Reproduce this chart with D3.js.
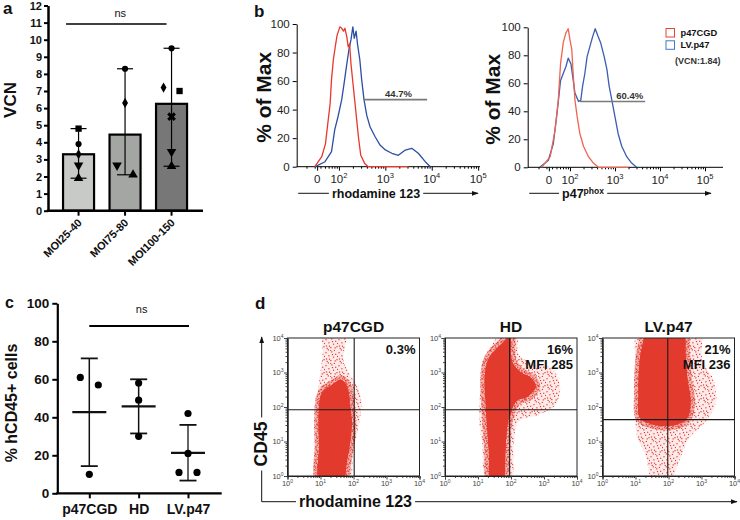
<!DOCTYPE html>
<html lang="en">
<head>
<meta charset="UTF-8" />
<title>VCN, rhodamine 123 and CD45 panels</title>
<script src="https://cdn.jsdelivr.net/npm/d3@7"></script>
<style>
  body { margin: 0; background: #fff; }
  svg { display: block; font-family: "Liberation Sans", Arial, sans-serif; }
</style>
</head>
<body>
<div id="chart"></div>
<script>
// ---- panel a: vector copy number per MOI group
const moiGroups = ['MOI25-40', 'MOI75-80', 'MOI100-150'];
const vcnMean = [3.3, 4.45, 6.25];
const vcnLow = [1.9, 2.1, 2.6];
const vcnHigh = [4.8, 8.3, 9.5];
const vcnTicks = [0, 1, 2, 3, 4, 5, 6, 7, 8, 9, 10, 11, 12];
// [group, VCN, marker]
const vcnPoints = [
  [0, 4.8, 'square'], [0, 3.9, 'circle'], [0, 3.3, 'diamond'], [0, 2.65, 'down'], [0, 1.9, 'up'],
  [1, 8.3, 'circle'], [1, 6.3, 'diamond'], [1, 2.65, 'down'], [1, 2.1, 'up'],
  [2, 9.5, 'circle'], [2, 7.2, 'diamond'], [2, 7.0, 'square'], [2, 5.5, 'cross'], [2, 3.45, 'down'], [2, 2.6, 'up']
];

// ---- panel b: histograms, x in log10 units of fluorescence, y in % of max
const histTicks = [1.53, 2, 3, 4, 5];
const histTickLabels = ['0', '10^2', '10^3', '10^4', '10^5'];
const rhoCGD = [[1.48, 0], [1.63, 7], [1.71, 16], [1.77, 33], [1.81, 44], [1.84, 61], [1.88, 75], [1.93, 86],
  [1.96, 92], [2.02, 98], [2.06, 97], [2.10, 95], [2.13, 97], [2.17, 91], [2.20, 84], [2.23, 86], [2.26, 72],
  [2.31, 56], [2.37, 37], [2.42, 21], [2.47, 8], [2.56, 2], [2.63, 0], [3.5, 0]];
const rhoLV = [[1.49, 0], [1.70, 3.5], [1.84, 10.5], [1.91, 26], [1.98, 35], [2.06, 47], [2.11, 58], [2.17, 72],
  [2.22, 83], [2.26, 89], [2.30, 98], [2.33, 90], [2.37, 95], [2.40, 86], [2.45, 75], [2.49, 61], [2.54, 47],
  [2.60, 36], [2.67, 28], [2.78, 21], [2.89, 15], [2.99, 12], [3.14, 9.4], [3.28, 8], [3.43, 11.7], [3.57, 12.9],
  [3.71, 9.4], [3.86, 3.5], [3.97, 0]];
const p47CGD = [[1.37, 0], [1.56, 7.6], [1.67, 27], [1.74, 48], [1.79, 74], [1.85, 89], [1.91, 96], [1.96, 99],
  [2.0, 91], [2.04, 84], [2.07, 67], [2.11, 48], [2.16, 36], [2.22, 24], [2.30, 15], [2.41, 7.6], [2.52, 3],
  [2.63, 0], [3.3, 0]];
const p47LV = [[1.33, 0], [1.52, 5], [1.63, 17], [1.72, 41], [1.79, 62], [1.85, 67], [1.91, 72], [1.96, 78],
  [2.02, 74], [2.06, 65], [2.11, 53], [2.19, 47], [2.24, 48], [2.28, 58], [2.33, 67], [2.38, 79], [2.44, 86],
  [2.50, 93], [2.56, 99], [2.63, 93], [2.68, 89], [2.76, 79], [2.82, 70], [2.87, 58], [2.93, 48], [3.0, 36],
  [3.07, 24], [3.15, 15], [3.26, 7.6], [3.37, 3], [3.48, 0]];
// [from, to, level %, label]
const rhoGate = [2.54, 3.90, 47, '44.7%'];
const p47Gate = [2.22, 3.67, 47, '60.4%'];
const legendNames = ['p47CGD', 'LV.p47'];
const legendNote = '(VCN:1.84)';

// ---- panel c: % hCD45+ cells
const cd45Groups = ['p47CGD', 'HD', 'LV.p47'];
const cd45Points = [[61, 57, 10], [58, 49, 30], [42, 21, 11, 11]];
const cd45Mean = [42.7, 45.7, 21.3];
const cd45Low = [14.3, 31.5, 6.7];
const cd45High = [71, 60, 36];
const cd45Ticks = [0, 20, 40, 60, 80, 100];

// ---- panel d: CD45 vs rhodamine 123 dot plots, contours in log10 units [x, y]
const dotTitles = ['p47CGD', 'HD', 'LV.p47'];
const dotPct = ['0.3%', '16%', '21%'];
const dotMfi = ['', 'MFI 285', 'MFI 236'];
const quadX = [105, 91, 95];
const quadY = [83, 83, 43];
const dotTicks = [1, 10, 100, 1000, 10000];
const cloudCore = [
  [[0.99, -0.2], [0.96, 0.9], [0.94, 1.58], [0.99, 2.26], [1.11, 2.5], [1.35, 2.64], [1.6, 2.79], [1.75, 2.69],
   [1.85, 2.45], [1.9, 1.97], [1.95, 1.58], [1.9, 1.0], [1.8, 0.42], [1.65, -0.2]],
  [[1.41, -0.2], [1.33, 0.71], [1.28, 1.38], [1.23, 2.16], [1.21, 2.93], [1.33, 3.42], [1.58, 3.71], [1.83, 3.95],
   [1.98, 4.2], [2.03, 3.32], [2.3, 3.0], [2.6, 2.85], [2.75, 2.6], [2.5, 2.3], [2.2, 2.2],
   [2.0, 1.87], [1.88, 1.38], [1.83, 0.71], [1.73, -0.2]],
  [[1.14, 1.68], [1.09, 2.35], [1.11, 3.13], [1.19, 3.71], [1.4, 4.2], [2.42, 4.2], [2.52, 3.52], [2.57, 2.84],
   [2.67, 2.16], [2.57, 1.68], [2.21, 1.48], [1.6, 1.48]]
];
const cloudFringe = [
  [[0.91, -0.2], [0.86, 1.19], [0.88, 2.16], [0.99, 2.93], [1.06, 3.52], [1.11, 4.2], [1.75, 4.2], [1.7, 3.32],
   [1.9, 2.93], [2.09, 2.64], [2.24, 2.16], [2.14, 1.38], [1.99, 0.71], [1.85, -0.2]],
  [[1.28, -0.2], [1.13, 0.9], [1.03, 1.68], [1.08, 2.64], [1.13, 3.32], [1.43, 3.81], [1.73, 4.2], [2.18, 4.2],
   [2.23, 3.52], [2.73, 3.23], [3.24, 3.13], [3.49, 2.55], [3.34, 2.06], [2.83, 1.77], [2.23, 1.58], [2.08, 0.9],
   [1.98, -0.2]],
  [[1.04, 1.19], [0.99, 2.16], [0.99, 3.32], [1.09, 4.2], [2.93, 4.2], [3.03, 3.32], [3.34, 2.84], [3.44, 2.16],
   [3.13, 1.58], [2.62, 1.09], [2.32, 0.42], [2.01, -0.2], [1.55, -0.2], [1.30, 0.61]]
];

const FONT = '"Liberation Sans", Arial, sans-serif';
const RED = '#e23a2d';
const svg = d3.select('#chart').append('svg').attr('width', 740).attr('height', 520);
const defs = svg.append('defs');
defs.append('marker').attr('id', 'arrow').attr('viewBox', '0 0 10 10')
  .attr('refX', 9).attr('refY', 5).attr('markerWidth', 7).attr('markerHeight', 7).attr('orient', 'auto')
  .append('path').attr('d', 'M0,1.5L10,5L0,8.5Z').attr('fill', '#111');

// speckle fills for the sparse and the medium part of the dot clouds
function speckle(id, tile, bgOpacity, dots) {
  const p = defs.append('pattern').attr('id', id).attr('patternUnits', 'userSpaceOnUse')
    .attr('width', tile).attr('height', tile);
  p.append('rect').attr('width', tile).attr('height', tile).attr('fill', RED).attr('fill-opacity', bgOpacity);
  dots.forEach(d => p.append('rect').attr('x', d[0]).attr('y', d[1]).attr('width', 1.2).attr('height', 1.2).attr('fill', RED));
}
speckle('sparse', 13, 0.1, [[0.4, 1.1], [6.2, 0.3], [10.1, 2.7], [3.3, 4.2], [8.0, 5.6], [0.9, 7.4], [11.4, 8.1],
  [5.2, 9.0], [2.7, 11.3], [8.8, 11.9], [12.0, 4.9], [6.9, 3.0], [3.9, 7.6], [9.6, 9.3], [1.6, 9.8], [5.0, 12.2]]);
speckle('medium', 7, 0.3, [[0.5, 0.6], [3.9, 1.3], [1.7, 3.7], [5.3, 4.2], [0.2, 5.6], [3.3, 5.9], [5.8, 0.1], [2.5, 2.1]]);

function label(txt, x, y, size, opts = {}) {
  return svg.append('text').attr('x', x).attr('y', y).attr('font-size', size)
    .attr('font-weight', opts.weight || 'bold').attr('text-anchor', opts.anchor || 'start')
    .attr('fill', opts.fill || '#111').attr('transform', opts.rotate ? `rotate(-90,${x},${y})` : null)
    .text(txt);
}

function powerLabel(sel, str, supSize, shift) {
  const parts = str.split('^');
  sel.append('tspan').text(parts[0]);
  if (parts[1]) sel.append('tspan').attr('dy', -shift).attr('font-size', supSize).text(parts[1]);
}

// pairs of points that would overlap are split left / right
function spread(values, y, gap, off) {
  const order = values.map((v, i) => i).sort((a, b) => values[b] - values[a]);
  const dx = values.map(() => 0);
  for (let k = 1; k < order.length; k++) {
    const a = order[k - 1], b = order[k];
    if (dx[a] === 0 && Math.abs(y(values[a]) - y(values[b])) < gap) { dx[a] = -off; dx[b] = off; }
  }
  return dx;
}

// horizontal arrow with a gap for the text element t
function hArrow(t, x1, x2, y) {
  const bb = t.node().getBBox();
  svg.append('line').attr('x1', x1).attr('x2', bb.x - 3).attr('y1', y).attr('y2', y).attr('stroke', '#111');
  svg.append('line').attr('x1', bb.x + bb.width + 3).attr('x2', x2).attr('y1', y).attr('y2', y)
    .attr('stroke', '#111').attr('marker-end', 'url(#arrow)');
}

// ================= panel a =================
label('a', 3, 14, 17);
const ya = d3.scaleLinear().domain([0, 12]).range([210.7, 5.5]);
const xa = d3.scaleBand().domain(moiGroups).range([55.3, 194.8]).paddingInner(0.333).paddingOuter(0.1667);
const barFill = ['#c8cac8', '#a4a6a4', '#767776'];
const ga = svg.append('g');
ga.selectAll('rect').data(moiGroups).join('rect')
  .attr('x', d => xa(d)).attr('width', xa.bandwidth())
  .attr('y', (d, i) => ya(vcnMean[i])).attr('height', (d, i) => ya(0) - ya(vcnMean[i]))
  .attr('fill', (d, i) => barFill[i]).attr('stroke', '#000').attr('stroke-width', 2.2);
moiGroups.forEach((g, i) => {
  const cx = xa(g) + xa.bandwidth() / 2;
  ga.append('line').attr('x1', cx).attr('x2', cx).attr('y1', ya(vcnLow[i])).attr('y2', ya(vcnHigh[i]))
    .attr('stroke', '#000').attr('stroke-width', 1.2);
  [vcnLow[i], vcnHigh[i]].forEach(v => {
    ga.append('line').attr('x1', cx - 8).attr('x2', cx + 8).attr('y1', ya(v)).attr('y2', ya(v))
      .attr('stroke', '#000').attr('stroke-width', 1.2);
  });
  const pts = vcnPoints.filter(p => p[0] === i);
  const dx = spread(pts.map(p => p[1]), ya, 10, 8);
  pts.forEach((p, k) => {
    const shape = { square: d3.symbolSquare, circle: d3.symbolCircle, diamond: d3.symbolDiamond,
      down: d3.symbolTriangle, up: d3.symbolTriangle, cross: d3.symbolCross }[p[2]];
    const size = p[2] === 'circle' ? 30 : p[2] === 'cross' ? 48 : p[2] === 'diamond' ? 30 : 40;
    const rot = p[2] === 'down' ? 180 : p[2] === 'cross' ? 45 : 0;
    ga.append('path').attr('d', d3.symbol(shape, size)())
      .attr('transform', `translate(${cx + dx[k]},${ya(p[1])}) rotate(${rot})`).attr('fill', '#000');
  });
});
const ayA = ga.append('g').attr('transform', 'translate(48,0)')
  .call(d3.axisLeft(ya).tickValues(vcnTicks).tickSize(4).tickSizeOuter(0).tickPadding(2));
ayA.attr('font-family', FONT).attr('font-size', 11).attr('font-weight', 'bold');
ayA.select('.domain').attr('stroke-width', 2.5);
ayA.selectAll('.tick line').attr('stroke-width', 2);
ayA.selectAll('text').attr('fill', '#111');
ga.append('line').attr('x1', 46.8).attr('x2', 203).attr('y1', ya(0)).attr('y2', ya(0))
  .attr('stroke', '#000').attr('stroke-width', 2.5);
const axA = ga.append('g').attr('transform', `translate(0,${ya(0)})`)
  .call(d3.axisBottom(xa).tickSize(5).tickSizeOuter(0));
axA.attr('font-family', FONT).attr('font-size', 11).attr('font-weight', 'bold');
axA.select('.domain').remove();
axA.selectAll('.tick line').attr('stroke-width', 2);
axA.selectAll('text').attr('fill', '#111').attr('text-anchor', 'end')
  .attr('x', -6).attr('y', 8).attr('dy', '0.35em').attr('transform', 'rotate(-45)');
const nsA0 = xa(moiGroups[0]) + 3, nsA1 = xa(moiGroups[2]) + xa.bandwidth() / 2 - 5;
ga.append('line').attr('x1', nsA0).attr('x2', nsA1).attr('y1', 24).attr('y2', 24)
  .attr('stroke', '#000').attr('stroke-width', 1.6);
label('ns', (nsA0 + nsA1) / 2 + 4, 16.5, 11, { weight: 'normal', anchor: 'middle' });
label('VCN', 16, 100, 17, { rotate: true, anchor: 'middle' });

// ================= panel b =================
label('b', 254, 16.5, 17);
const histPanels = [
  { xr: [296.7, 480], yr: [166.7, 24], dom: [1.09, 5.04], series: [rhoLV, rhoCGD],
    colors: ['#2c4ea4', '#e8382b'], gate: rhoGate, anchor: 'middle', xlab: 'rhodamine 123',
    xlabX: 376, arrowEnd: 478, ylabX: 271.5 },
  { xr: [527.7, 723], yr: [167.3, 27.3], dom: [1.06, 5.4], series: [p47LV, p47CGD],
    colors: ['#3a5cb2', '#ef6450'], gate: p47Gate, anchor: 'end', xlab: 'p47^phox',
    xlabX: 583, arrowEnd: 711, ylabX: 500.5 }
];
histPanels.forEach(cfg => {
  const x = d3.scaleLinear().domain(cfg.dom).range(cfg.xr);
  const y = d3.scaleLinear().domain([0, 100]).range(cfg.yr);
  const g = svg.append('g');
  const line = d3.line().x(d => x(d[0])).y(d => y(d[1]));
  const ay = g.append('g').attr('transform', `translate(${cfg.xr[0]},0)`)
    .call(d3.axisLeft(y).tickValues([0, 20, 40, 60, 80, 100]).tickSize(4).tickSizeOuter(0).tickPadding(3));
  ay.attr('font-family', FONT).attr('font-size', 11.5);
  ay.selectAll('text').attr('fill', '#222');
  const minor = [];
  for (let n = 1; n <= 4; n++) for (let k = 2; k <= 9; k++) {
    const v = Math.log10(k * Math.pow(10, n));
    if (v > cfg.dom[0] && v < cfg.dom[1]) minor.push(v);
  }
  const ax = g.append('g').attr('transform', `translate(0,${cfg.yr[0]})`)
    .call(d3.axisBottom(x).tickValues(minor).tickSize(2).tickSizeOuter(0).tickFormat(''));
  ax.select('.domain').attr('d', `M${cfg.xr[0]},0H${cfg.xr[1]}`);
  const axMaj = g.append('g').attr('transform', `translate(0,${cfg.yr[0]})`)
    .call(d3.axisBottom(x).tickValues(histTicks).tickSize(4).tickFormat(''));
  axMaj.select('.domain').remove();
  histTicks.forEach((v, i) => {
    const t = g.append('text').attr('x', x(v)).attr('y', cfg.yr[0] + 16.5).attr('text-anchor', 'middle')
      .attr('font-size', 11.5).attr('fill', '#222');
    powerLabel(t, histTickLabels[i], 7.5, 5);
  });
  cfg.series.forEach((s, si) => {
    g.append('path').datum(s).attr('d', line).attr('fill', 'none')
      .attr('stroke', cfg.colors[si]).attr('stroke-width', 1.3).attr('stroke-linejoin', 'round');
  });
  const [lo, hi, lev, txt] = cfg.gate;
  g.append('line').attr('x1', x(lo)).attr('x2', x(hi)).attr('y1', y(lev)).attr('y2', y(lev))
    .attr('stroke', '#7a7a7a').attr('stroke-width', 1.6);
  const gx = cfg.anchor === 'end' ? x(hi) - 2 : (x(lo) + x(hi)) / 2 + 3;
  g.append('text').attr('x', gx).attr('y', y(lev) - 3).attr('text-anchor', cfg.anchor)
    .attr('font-size', 9.5).attr('font-weight', 'bold').attr('fill', '#333').text(txt);
  label('% of Max', cfg.ylabX, (cfg.yr[0] + cfg.yr[1]) / 2 + 2, 21, { rotate: true, anchor: 'middle' });
  const xl = svg.append('text').attr('x', cfg.xlabX).attr('y', 197.5).attr('text-anchor', 'middle')
    .attr('font-size', 12.5).attr('font-weight', 'bold').attr('fill', '#111');
  powerLabel(xl, cfg.xlab, 8.5, 4);
  hArrow(xl, cfg.xr[0] + 1.5, cfg.arrowEnd, 193.3);
});
// legend
legendNames.forEach((n, i) => {
  svg.append('rect').attr('x', 666).attr('y', 28.5 + i * 12.3).attr('width', 8.5).attr('height', 8.5)
    .attr('fill', 'none').attr('stroke', i ? '#3f7ac8' : '#e8452f').attr('stroke-width', 1);
  label(n, 680.5, 36 + i * 12.3, 9.3);
});
label(legendNote, 675, 64, 9, { fill: '#333' });

// ================= panel c =================
label('c', 5, 308, 16);
const yc = d3.scaleLinear().domain([0, 100]).range([493.3, 303.3]);
const xc = d3.scalePoint().domain(cd45Groups).range([89.3, 188]);
const gc = svg.append('g');
const ayC = gc.append('g').attr('transform', 'translate(57.3,0)')
  .call(d3.axisLeft(yc).tickValues(cd45Ticks).tickSize(5).tickSizeOuter(0).tickPadding(3));
ayC.attr('font-family', FONT).attr('font-size', 13.5).attr('font-weight', 'bold');
ayC.select('.domain').attr('stroke-width', 2.2);
ayC.selectAll('.tick line').attr('stroke-width', 2);
ayC.selectAll('text').attr('fill', '#111');
const axC = gc.append('g').attr('transform', `translate(0,${yc(0)})`)
  .call(d3.axisBottom(xc).tickSize(5).tickSizeOuter(0).tickPadding(6));
axC.attr('font-family', FONT).attr('font-size', 14).attr('font-weight', 'bold');
axC.select('.domain').attr('d', 'M56.2,0H221.7').attr('stroke-width', 2.2);
axC.selectAll('.tick line').attr('stroke-width', 2);
axC.selectAll('text').attr('fill', '#111');
cd45Groups.forEach((g, i) => {
  const cx = xc(g);
  gc.append('line').attr('x1', cx).attr('x2', cx).attr('y1', yc(cd45Low[i])).attr('y2', yc(cd45High[i]))
    .attr('stroke', i === 2 ? '#333' : '#111').attr('stroke-width', 1.5);
  [cd45Low[i], cd45High[i]].forEach(v => {
    gc.append('line').attr('x1', cx - 8.5).attr('x2', cx + 8.5).attr('y1', yc(v)).attr('y2', yc(v))
      .attr('stroke', '#111').attr('stroke-width', 1.8);
  });
  gc.append('line').attr('x1', cx - 17).attr('x2', cx + 17).attr('y1', yc(cd45Mean[i])).attr('y2', yc(cd45Mean[i]))
    .attr('stroke', '#111').attr('stroke-width', 2.2);
  const dx = spread(cd45Points[i], yc, 10, 9);
  cd45Points[i].forEach((v, k) => {
    gc.append('circle').attr('cx', cx + dx[k]).attr('cy', yc(v)).attr('r', 3.6).attr('fill', '#000');
  });
});
gc.append('line').attr('x1', xc(cd45Groups[0])).attr('x2', xc(cd45Groups[2]) + 1)
  .attr('y1', 326).attr('y2', 326).attr('stroke', '#000').attr('stroke-width', 1.8);
label('ns', xc(cd45Groups[1]) + 3, 313, 11, { weight: 'normal', anchor: 'middle' });
label('% hCD45+ cells', 16.5, 403, 16, { rotate: true, anchor: 'middle' });

// ================= panel d =================
label('d', 255, 309, 17);
const dTop = 338, dBot = 476, dW = 132;
dotTitles.forEach((title, i) => {
  const left = 287.5 + i * 157.5;
  const xs = d3.scaleLog().domain([1, 1e4]).range([left, left + dW]);
  const ys = d3.scaleLog().domain([1, 1e4]).range([dBot, dTop]);
  const g = svg.append('g');
  const clipId = 'clip' + i;
  defs.append('clipPath').attr('id', clipId).append('rect')
    .attr('x', left).attr('y', dTop).attr('width', dW).attr('height', dBot - dTop);
  const shape = d3.line().x(p => xs(Math.pow(10, p[0]))).y(p => ys(Math.pow(10, p[1])))
    .curve(d3.curveCatmullRomClosed.alpha(0.5));
  const clouds = g.append('g').attr('clip-path', `url(#${clipId})`);
  clouds.append('path').attr('d', shape(cloudFringe[i])).attr('fill', 'url(#sparse)');
  clouds.append('path').attr('d', shape(cloudCore[i])).attr('fill', RED)
    .attr('stroke', 'url(#medium)').attr('stroke-width', 9);
  clouds.append('path').attr('d', shape(cloudCore[i])).attr('fill', RED);
  g.append('line').attr('x1', xs(quadX[i])).attr('x2', xs(quadX[i])).attr('y1', dTop).attr('y2', dBot)
    .attr('stroke', '#1a1a1a').attr('stroke-width', 1.1);
  g.append('line').attr('x1', left).attr('x2', left + dW).attr('y1', ys(quadY[i])).attr('y2', ys(quadY[i]))
    .attr('stroke', '#1a1a1a').attr('stroke-width', 1.1);
  g.append('rect').attr('x', left).attr('y', dTop).attr('width', dW).attr('height', dBot - dTop)
    .attr('fill', 'none').attr('stroke', '#222').attr('stroke-width', 1);
  const minor = [];
  for (let n = 0; n < 4; n++) for (let k = 2; k <= 9; k++) minor.push(k * Math.pow(10, n));
  const ax = g.append('g').attr('transform', `translate(0,${dBot})`);
  ax.call(d3.axisBottom(xs).tickValues(minor).tickSize(2).tickFormat(''));
  ax.call(a => a.append('g').call(d3.axisBottom(xs).tickValues(dotTicks).tickSize(3.5).tickFormat('')));
  const ay = g.append('g').attr('transform', `translate(${left},0)`);
  ay.call(d3.axisLeft(ys).tickValues(minor).tickSize(2).tickFormat(''));
  ay.call(a => a.append('g').call(d3.axisLeft(ys).tickValues(dotTicks).tickSize(3.5).tickFormat('')));
  g.selectAll('.domain').attr('stroke', '#222');
  g.selectAll('.tick line').attr('stroke', '#444');
  dotTicks.forEach((v, k) => {
    const tx = g.append('text').attr('x', xs(v)).attr('y', dBot + 9.5).attr('text-anchor', 'middle')
      .attr('font-size', 7.5).attr('fill', '#444');
    powerLabel(tx, '10^' + k, 5, 3);
    const ty = g.append('text').attr('x', left - 4).attr('y', ys(v) + 2.5).attr('text-anchor', 'end')
      .attr('font-size', 7.5).attr('fill', '#444');
    powerLabel(ty, '10^' + k, 5, 3);
  });
  label(title, left + dW / 2, 331.5, 15.5, { anchor: 'middle' });
  label(dotPct[i], left + dW - 4, 354, 13, { anchor: 'end' });
  if (dotMfi[i]) label(dotMfi[i], left + dW - 4, 368.5, 13, { anchor: 'end' });
});
const rhoLab = label('rhodamine 123', 355.5, 507, 16, { anchor: 'middle' });
hArrow(rhoLab, 261.7, 737, 501.7);
const cdLab = label('CD45', 267, 444, 17.5, { anchor: 'middle', rotate: true });
const cdW = cdLab.node().getBBox().width;
svg.append('line').attr('x1', 261.7).attr('x2', 261.7).attr('y1', 501.7).attr('y2', 444 + cdW / 2 + 4).attr('stroke', '#111');
svg.append('line').attr('x1', 261.7).attr('x2', 261.7).attr('y1', 444 - cdW / 2 - 4).attr('y2', 337)
  .attr('stroke', '#111').attr('marker-end', 'url(#arrow)');
</script>
</body>
</html>
